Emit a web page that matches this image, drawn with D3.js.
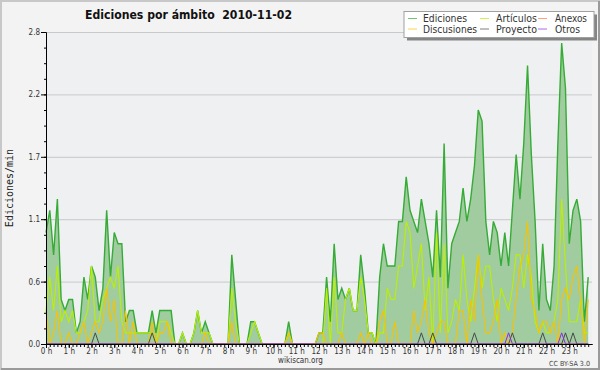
<!DOCTYPE html>
<html>
<head>
<meta charset="utf-8">
<script src="https://cdn.jsdelivr.net/npm/d3@7"></script>
<style>
  html, body { margin: 0; padding: 0; background: #f3f3f3; }
  svg { display: block; }
  text { font-family: 'DejaVu Sans Condensed', 'DejaVu Sans', sans-serif; font-stretch: condensed; }
</style>
</head>
<body>
<div id="edits-chart"></div>
<script>
// one value every 10 minutes, edits per minute
const ediciones = [
  1.0, 1.2, 0.8, 1.3, 0.4, 0.3, 0.4, 0.4, 0.1, 0.2, 0.6, 0.4,
  0.7, 0.6, 0.3, 0.5, 1.2, 0.6, 1.0, 0.9, 0.9, 0.2, 0.3, 0.3,
  0.1, 0.1, 0.1, 0.1, 0.3, 0.1, 0.3, 0.3, 0.3, 0.3, 0.0, 0.0,
  0.1, 0.0, 0.0, 0.1, 0.3, 0.1, 0.2, 0.1, 0.0, 0.0, 0.0, 0.0,
  0.0, 0.8, 0.4, 0.0, 0.0, 0.0, 0.2, 0.2, 0.1, 0.0, 0.0, 0.0,
  0.0, 0.0, 0.0, 0.0, 0.2, 0.0, 0.0, 0.0, 0.0, 0.0, 0.0, 0.0,
  0.1, 0.1, 0.6, 0.2, 0.9, 0.4, 0.5, 0.4, 0.5, 0.3, 0.3, 0.8,
  0.5, 0.1, 0.1, 0.0, 0.6, 0.9, 0.7, 0.7, 0.7, 1.1, 1.1, 1.5,
  1.2, 1.1, 1.0, 1.3, 1.1, 0.9, 0.6, 1.2, 0.6, 1.8, 0.5, 0.9,
  1.0, 1.1, 1.4, 1.1, 1.3, 1.6, 2.1, 2.0, 1.1, 0.8, 1.1, 1.0,
  0.7, 1.0, 0.7, 1.2, 1.7, 1.3, 1.8, 2.5, 1.7, 1.1, 0.3, 0.9,
  0.4, 0.3, 0.7, 1.8, 2.7, 2.3, 0.9, 1.2, 1.3, 1.1, 0.2, 0.6
];

const articulos = [
  0.3, 0.6, 0.3, 0.7, 0.2, 0.3, 0.2, 0.3, 0.1, 0.1, 0.2, 0.3,
  0.7, 0.2, 0.2, 0.4, 0.5, 0.6, 0.5, 0.7, 0.2, 0.1, 0.1, 0.1,
  0.1, 0.1, 0.1, 0.1, 0.1, 0.0, 0.2, 0.2, 0.2, 0.1, 0.0, 0.0,
  0.1, 0.0, 0.0, 0.1, 0.3, 0.1, 0.1, 0.1, 0.0, 0.0, 0.0, 0.0,
  0.0, 0.5, 0.2, 0.0, 0.0, 0.0, 0.1, 0.2, 0.1, 0.0, 0.0, 0.0,
  0.0, 0.0, 0.0, 0.0, 0.1, 0.0, 0.0, 0.0, 0.0, 0.0, 0.0, 0.0,
  0.0, 0.0, 0.5, 0.0, 0.6, 0.1, 0.1, 0.4, 0.5, 0.3, 0.3, 0.6,
  0.4, 0.1, 0.1, 0.0, 0.1, 0.1, 0.5, 0.4, 0.4, 0.7, 0.7, 1.1,
  1.0, 0.5, 0.7, 0.9, 0.3, 0.6, 0.0, 1.0, 0.1, 0.9, 0.1, 0.2,
  0.4, 0.3, 0.8, 0.4, 0.2, 0.5, 0.8, 0.5, 0.7, 0.7, 0.4, 0.2,
  0.5, 0.4, 0.3, 0.5, 0.8, 0.8, 0.5, 0.8, 0.6, 0.2, 0.1, 0.2,
  0.1, 0.1, 0.2, 0.4, 1.3, 0.7, 0.2, 0.2, 0.2, 0.4, 0.1, 0.1
];

const anexos = [
  0, 0, 0, 0, 0, 0, 0, 0, 0, 0, 0, 0,
  0, 0, 0, 0, 0, 0, 0, 0, 0, 0, 0, 0,
  0, 0, 0, 0, 0, 0, 0, 0, 0, 0, 0, 0,
  0, 0, 0, 0, 0, 0, 0, 0, 0, 0, 0, 0,
  0, 0, 0, 0, 0, 0, 0, 0, 0, 0, 0, 0,
  0, 0, 0, 0, 0, 0, 0, 0, 0, 0, 0, 0,
  0, 0, 0, 0, 0, 0, 0, 0, 0, 0, 0, 0,
  0, 0, 0, 0, 0, 0, 0, 0, 0, 0, 0, 0,
  0, 0, 0, 0, 0, 0, 0, 0, 0, 0, 0, 0,
  0, 0, 0, 0, 0, 0, 0, 0, 0, 0, 0, 0,
  0, 0, 0, 0, 0, 0, 0, 0, 0, 0, 0, 0,
  0, 0, 0, 0, 0, 0, 0, 0, 0, 0, 0, 0
];

const discusiones = [
  0.3, 0.0, 0.1, 0.3, 0.0, 0.0, 0.1, 0.0, 0.0, 0.1, 0.2, 0.0,
  0.1, 0.2, 0.1, 0.2, 0.5, 0.2, 0.4, 0.0, 0.0, 0.3, 0.0, 0.2,
  0.0, 0.0, 0.0, 0.0, 0.2, 0.0, 0.1, 0.1, 0.2, 0.0, 0.0, 0.0,
  0.0, 0.0, 0.0, 0.0, 0.0, 0.0, 0.1, 0.0, 0.0, 0.0, 0.0, 0.0,
  0.0, 0.2, 0.0, 0.0, 0.0, 0.0, 0.0, 0.0, 0.0, 0.0, 0.0, 0.0,
  0.0, 0.0, 0.0, 0.0, 0.1, 0.0, 0.0, 0.0, 0.0, 0.0, 0.0, 0.0,
  0.1, 0.1, 0.0, 0.0, 0.0, 0.0, 0.1, 0.0, 0.0, 0.0, 0.0, 0.1,
  0.0, 0.1, 0.0, 0.0, 0.2, 0.3, 0.0, 0.0, 0.2, 0.0, 0.0, 0.0,
  0.0, 0.3, 0.1, 0.2, 0.4, 0.1, 0.0, 0.1, 0.2, 0.2, 0.0, 0.0,
  0.0, 0.3, 0.3, 0.0, 0.4, 0.2, 0.8, 0.4, 0.1, 0.1, 0.2, 0.4,
  0.0, 0.1, 0.0, 0.1, 0.4, 0.7, 0.8, 1.1, 0.4, 0.3, 0.1, 0.2,
  0.2, 0.1, 0.2, 0.0, 0.4, 0.5, 0.4, 0.6, 0.7, 0.4, 0.0, 0.4
];

const proyecto = [
  0, 0, 0, 0, 0, 0, 0, 0, 0, 0, 0, 0,
  0, 0.1, 0, 0, 0, 0, 0, 0, 0, 0, 0, 0,
  0, 0, 0, 0, 0.1, 0, 0, 0, 0, 0, 0, 0,
  0, 0, 0, 0, 0, 0, 0, 0, 0, 0, 0, 0,
  0, 0, 0, 0, 0, 0, 0, 0, 0, 0, 0, 0,
  0, 0, 0, 0, 0, 0, 0, 0, 0, 0, 0, 0,
  0, 0, 0, 0, 0, 0, 0, 0, 0, 0, 0, 0,
  0, 0, 0, 0, 0, 0, 0, 0, 0, 0, 0, 0,
  0, 0, 0, 0.1, 0, 0, 0.1, 0, 0, 0, 0, 0,
  0, 0, 0, 0, 0, 0.1, 0, 0, 0, 0, 0, 0,
  0, 0, 0, 0.1, 0, 0, 0, 0, 0, 0, 0, 0.1,
  0, 0, 0, 0, 0, 0.1, 0, 0.1, 0, 0, 0, 0
];

const otros = [
  0, 0, 0, 0, 0, 0, 0, 0, 0, 0, 0, 0,
  0, 0, 0, 0, 0, 0, 0, 0, 0, 0, 0, 0,
  0, 0, 0, 0, 0, 0, 0, 0, 0, 0, 0, 0,
  0, 0, 0, 0, 0, 0, 0, 0, 0, 0, 0, 0,
  0, 0, 0, 0, 0, 0, 0, 0, 0, 0, 0, 0,
  0, 0, 0, 0, 0, 0, 0, 0, 0, 0, 0, 0,
  0, 0, 0, 0, 0, 0, 0, 0, 0, 0, 0, 0,
  0, 0, 0, 0, 0, 0, 0, 0, 0, 0, 0, 0,
  0, 0, 0, 0, 0, 0, 0, 0, 0, 0, 0, 0,
  0, 0, 0, 0, 0, 0, 0, 0, 0, 0, 0, 0,
  0, 0, 0.1, 0, 0, 0, 0, 0, 0, 0, 0, 0,
  0, 0, 0, 0, 0.1, 0, 0, 0, 0, 0, 0, 0
];

const hourTicks = d3.range(0, 24);
const yTicks = [0, 0.56, 1.12, 1.68, 2.24, 2.8];
const legendNames = ['Ediciones', 'Artículos', 'Anexos', 'Discusiones', 'Proyecto', 'Otros'];

const colors = {
  Ediciones: '#36ab36',
  'Artículos': '#bbf000',
  Anexos: '#ff7a45',
  Discusiones: '#f7c300',
  Proyecto: '#4a4a4a',
  Otros: '#8a2be2'
};

const dims = { width: 600, height: 370, left: 46, right: 592, top: 32, bottom: 344 };

let svg, xScale, yScale;

function buildSvg() {
  svg = d3.select('#edits-chart')
    .append('svg')
    .attr('width', dims.width)
    .attr('height', dims.height);

  svg.append('rect')
    .attr('width', dims.width)
    .attr('height', dims.height)
    .attr('fill', '#f3f3f3');

  // 3d-ish frame like rrdtool
  svg.append('path')
    .attr('d', `M1,${dims.height} V1 H${dims.width}`)
    .attr('fill', 'none')
    .attr('stroke', '#c8c8c8')
    .attr('stroke-width', 2);
  svg.append('path')
    .attr('d', `M1,${dims.height - 1} H${dims.width - 1} V1`)
    .attr('fill', 'none')
    .attr('stroke', '#9a9a9a')
    .attr('stroke-width', 2);

  svg.append('rect')
    .attr('x', dims.left)
    .attr('y', dims.top)
    .attr('width', dims.right - dims.left)
    .attr('height', dims.bottom - dims.top)
    .attr('fill', '#eef0f1');
}

function buildScales() {
  xScale = d3.scaleLinear().domain([0, 24]).range([dims.left, dims.right]);
  yScale = d3.scaleLinear().domain([0, 2.8]).range([dims.bottom, dims.top]);
}

function drawGrid() {
  svg.append('g')
    .attr('transform', `translate(${dims.left},0)`)
    .call(d3.axisLeft(yScale)
      .tickValues(yTicks.slice(1))
      .tickSize(-(dims.right - dims.left))
      .tickFormat(''))
    .call(g => g.select('.domain').remove())
    .call(g => g.selectAll('line').attr('stroke', '#c9c9c9'));
}

function drawSeries() {
  const t = (d, i) => xScale(i / 6);

  const area = d3.area()
    .x(t)
    .y0(yScale(0))
    .y1(d => yScale(d));

  svg.append('path')
    .datum(ediciones)
    .attr('d', area)
    .attr('fill', '#a0cca0');

  const line = d3.line().x(t).y(d => yScale(d));

  const series = [
    ['Ediciones', ediciones, 1.4],
    ['Artículos', articulos, 1.1],
    ['Anexos', anexos, 1],
    ['Discusiones', discusiones, 1.1],
    ['Proyecto', proyecto, 1],
    ['Otros', otros, 1]
  ];

  series.forEach(([name, values, w]) => {
    svg.append('path')
      .datum(values)
      .attr('d', line)
      .attr('fill', 'none')
      .attr('stroke', colors[name])
      .attr('stroke-width', w)
      .attr('stroke-linejoin', 'miter');
  });
}

function drawAxes() {
  // minor ticks every 10 minutes
  svg.append('g')
    .attr('transform', `translate(0,${dims.bottom})`)
    .call(d3.axisBottom(xScale)
      .tickValues(d3.range(0, 144).map(i => i / 6))
      .tickSize(3)
      .tickSizeOuter(0)
      .tickFormat(''))
    .call(g => g.selectAll('line, path').attr('stroke', '#000'));

  const xAxisGroup = svg.append('g')
    .attr('transform', `translate(0,${dims.bottom})`)
    .call(d3.axisBottom(xScale)
      .tickValues(hourTicks)
      .tickSize(4)
      .tickSizeOuter(0)
      .tickFormat(d => d + ' h'));

  xAxisGroup.selectAll('line, path').attr('stroke', '#000');
  xAxisGroup.selectAll('text')
    .attr('y', 10)
    .attr('dy', null)
    .attr('fill', '#333')
    .style('font-size', '8px');

  svg.append('g')
    .attr('transform', `translate(${dims.left},0)`)
    .call(d3.axisLeft(yScale)
      .tickValues(d3.range(0, 21).map(i => i * 0.14))
      .tickSize(2)
      .tickSizeOuter(0)
      .tickFormat(''))
    .call(g => g.selectAll('line, path').attr('stroke', '#000'));

  const yAxisGroup = svg.append('g')
    .attr('transform', `translate(${dims.left},0)`)
    .call(d3.axisLeft(yScale)
      .tickValues(yTicks)
      .tickSize(5)
      .tickPadding(1)
      .tickSizeOuter(0)
      .tickFormat(d3.format('.1f')));

  yAxisGroup.selectAll('line, path').attr('stroke', '#000');
  yAxisGroup.selectAll('text')
    .attr('fill', '#333')
    .style('font-size', '8px');
}

function drawTexts() {
  svg.append('text')
    .attr('x', 85)
    .attr('y', 18.5)
    .attr('textLength', 207)
    .attr('lengthAdjust', 'spacingAndGlyphs')
    .style('font-size', '12.5px')
    .style('font-weight', 'bold')
    .style('white-space', 'pre')
    .attr('fill', '#111')
    .text('Ediciones por ámbito  2010-11-02');

  svg.append('text')
    .attr('transform', `translate(13,${(dims.top + dims.bottom) / 2}) rotate(-90)`)
    .attr('text-anchor', 'middle')
    .style('font-family', "'DejaVu Sans Mono', monospace")
    .style('font-size', '10px')
    .attr('fill', '#222')
    .text('Ediciones/min');

  svg.append('text')
    .attr('x', 300.5)
    .attr('y', 363)
    .attr('text-anchor', 'middle')
    .style('font-size', '8px')
    .attr('fill', '#333')
    .text('wikiscan.org');

  svg.append('text')
    .attr('x', 590)
    .attr('y', 365.5)
    .attr('text-anchor', 'end')
    .attr('textLength', 41)
    .attr('lengthAdjust', 'spacingAndGlyphs')
    .style('font-size', '7px')
    .attr('fill', '#444')
    .text('CC BY-SA 3.0');
}

function drawLegend() {
  const box = { x: 404, y: 11.5, w: 190, h: 26 };
  const sampleX = [408, 480, 538];
  const textX = [423, 496, 555];
  const textLen = [44, 41, 32, 54, 41, 25];

  svg.append('rect')
    .attr('x', box.x + 3).attr('y', box.y + 3)
    .attr('width', box.w).attr('height', box.h)
    .attr('fill', '#858585');

  svg.append('rect')
    .attr('x', box.x).attr('y', box.y)
    .attr('width', box.w).attr('height', box.h)
    .attr('fill', '#fff')
    .attr('stroke', '#a0a0a0');

  const items = svg.append('g')
    .selectAll('g')
    .data(legendNames)
    .join('g')
    .attr('transform', (d, i) => `translate(0,${i < 3 ? 0 : 10.5})`);

  items.append('line')
    .attr('x1', (d, i) => sampleX[i % 3])
    .attr('x2', (d, i) => sampleX[i % 3] + 9)
    .attr('y1', 18.5)
    .attr('y2', 18.5)
    .attr('stroke', d => colors[d])
    .attr('stroke-opacity', 0.7)
    .attr('stroke-width', 1);

  items.append('text')
    .attr('x', (d, i) => textX[i % 3])
    .attr('y', 22)
    .attr('textLength', (d, i) => textLen[i])
    .attr('lengthAdjust', 'spacingAndGlyphs')
    .style('font-size', '10.5px')
    .attr('fill', '#333')
    .text(d => d);
}

buildSvg();
buildScales();
drawGrid();
drawSeries();
drawAxes();
drawTexts();
drawLegend();
</script>
</body>
</html>
